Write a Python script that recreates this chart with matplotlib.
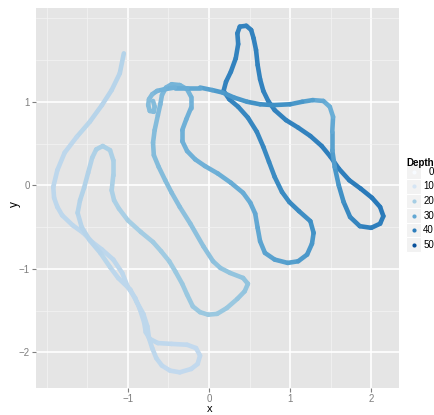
import matplotlib
matplotlib.use("Agg")
import matplotlib.pyplot as plt
import numpy as np
from matplotlib.collections import LineCollection
from matplotlib.colors import Normalize
from matplotlib.lines import Line2D
from matplotlib.patches import Rectangle

# path, in order along the track
path_x = [-1.05, -1.10, -1.20, -1.32, -1.47, -1.63, -1.78, -1.87, -1.92, -1.91,
          -1.87, -1.81, -1.68, -1.55, -1.44, -1.32, -1.18, -1.07, -1.00, -0.91,
          -0.85, -0.80, -0.78, -0.73, -0.63, -0.46, -0.27, -0.16, -0.11, -0.14,
          -0.22, -0.36, -0.48, -0.58, -0.65, -0.70, -0.74, -0.76, -0.81, -0.89,
          -0.97, -1.12, -1.22, -1.34, -1.47, -1.57, -1.62, -1.59, -1.54, -1.49,
          -1.44, -1.39, -1.31, -1.22, -1.18, -1.18, -1.20, -1.17, -1.11, -1.00,
          -0.84, -0.69, -0.59, -0.49, -0.41, -0.33, -0.27, -0.20, -0.11, -0.01,
          0.10, 0.22, 0.35, 0.44, 0.48, 0.42, 0.26, 0.14, 0.05, -0.07,
          -0.23, -0.36, -0.46, -0.54, -0.62, -0.68, -0.69, -0.67, -0.63, -0.60,
          -0.58, -0.53, -0.46, -0.36, -0.27, -0.22, -0.22, -0.28, -0.33, -0.33,
          -0.27, -0.17, -0.05, 0.11, 0.27, 0.42, 0.51, 0.57, 0.60, 0.63,
          0.69, 0.81, 0.97, 1.10, 1.21, 1.27, 1.29, 1.25, 1.11, 0.99,
          0.90, 0.81, 0.74, 0.67, 0.59, 0.48, 0.36, 0.25, 0.18, 0.21,
          0.27, 0.33, 0.36, 0.35, 0.38, 0.46, 0.52, 0.55, 0.58, 0.60,
          0.63, 0.67, 0.73, 0.81, 0.95, 1.10, 1.25, 1.39, 1.50, 1.60,
          1.73, 1.87, 2.01, 2.11, 2.15, 2.11, 2.00, 1.86, 1.74, 1.66,
          1.60, 1.55, 1.52, 1.52, 1.53, 1.49, 1.41, 1.28, 1.15, 1.00,
          0.79, 0.63, 0.47, 0.31, 0.17, 0.04, -0.11, -0.27, -0.42, -0.55,
          -0.64, -0.70, -0.74, -0.75, -0.73, -0.68, -0.67, -0.69]
path_y = [1.58, 1.34, 1.14, 0.96, 0.76, 0.58, 0.39, 0.18, -0.02, -0.15,
          -0.26, -0.36, -0.48, -0.57, -0.68, -0.77, -0.89, -1.05, -1.22, -1.35,
          -1.49, -1.64, -1.76, -1.84, -1.89, -1.90, -1.91, -1.95, -2.04, -2.14,
          -2.20, -2.24, -2.22, -2.16, -2.07, -1.95, -1.83, -1.69, -1.54, -1.40,
          -1.25, -1.11, -0.98, -0.81, -0.66, -0.50, -0.33, -0.18, -0.03, 0.15,
          0.33, 0.43, 0.47, 0.42, 0.30, 0.12, -0.06, -0.18, -0.28, -0.42,
          -0.56, -0.68, -0.79, -0.91, -1.04, -1.18, -1.31, -1.45, -1.52, -1.55,
          -1.54, -1.47, -1.36, -1.27, -1.18, -1.11, -1.05, -0.99, -0.91, -0.73,
          -0.46, -0.26, -0.09, 0.06, 0.22, 0.36, 0.51, 0.66, 0.84, 0.97,
          1.08, 1.17, 1.21, 1.20, 1.15, 1.06, 0.93, 0.79, 0.66, 0.53,
          0.41, 0.31, 0.23, 0.14, 0.03, -0.09, -0.21, -0.34, -0.51, -0.67,
          -0.81, -0.89, -0.93, -0.91, -0.83, -0.70, -0.57, -0.43, -0.31, -0.20,
          -0.08, 0.10, 0.28, 0.46, 0.64, 0.81, 0.94, 1.03, 1.13, 1.24,
          1.36, 1.52, 1.69, 1.82, 1.90, 1.91, 1.86, 1.76, 1.62, 1.44,
          1.27, 1.13, 1.01, 0.90, 0.78, 0.69, 0.59, 0.47, 0.34, 0.20,
          0.06, -0.04, -0.15, -0.26, -0.37, -0.46, -0.51, -0.49, -0.38, -0.20,
          0.00, 0.22, 0.42, 0.64, 0.82, 0.94, 1.01, 1.02, 1.00, 0.97,
          0.96, 0.97, 1.00, 1.05, 1.11, 1.14, 1.17, 1.17, 1.17, 1.15,
          1.13, 1.09, 1.03, 0.96, 0.89, 0.88, 0.94, 1.01]
depth = [18, 17, 17, 17, 17, 16, 16, 16, 16, 16,
         16, 16, 16, 16, 16, 16, 16, 16, 16, 16,
         16, 16, 16, 16, 16, 15, 15, 15, 15, 15,
         15, 15, 15, 15, 16, 16, 16, 16, 16, 16,
         16, 16, 16, 17, 17, 17, 17, 18, 18, 18,
         18, 19, 19, 19, 19, 19, 19, 19, 19, 20,
         20, 21, 21, 21, 22, 22, 22, 22, 22, 22,
         22, 22, 22, 23, 23, 23, 23, 23, 24, 24,
         24, 24, 25, 25, 25, 25, 25, 25, 25, 26,
         26, 26, 27, 27, 27, 27, 28, 28, 28, 28,
         28, 28, 28, 28, 29, 29, 29, 30, 30, 31,
         31, 32, 32, 33, 34, 34, 35, 36, 37, 37,
         37, 37, 37, 38, 38, 38, 38, 39, 39, 39,
         39, 39, 39, 39, 39, 39, 39, 39, 39, 39,
         39, 39, 39, 39, 39, 39, 39, 40, 40, 40,
         40, 41, 41, 41, 41, 40, 40, 39, 38, 37,
         35, 34, 32, 31, 29, 28, 29, 31, 34, 35,
         36, 36, 35, 34, 34, 33, 31, 30, 28, 28,
         27, 26, 25, 25, 25, 25, 25, 25]

legend_depths = [0, 10, 20, 30, 40, 50]
x_major = [-1, 0, 1, 2]
x_minor = [-2, -1.5, -0.5, 0.5, 1.5]
y_major = [-2, -1, 0, 1]
y_minor = [-1.5, -0.5, 0.5, 1.5, 2]

plt.rcParams["font.family"] = ["Liberation Sans", "DejaVu Sans"]

cmap = plt.get_cmap("Blues")
norm = Normalize(vmin=0, vmax=57)

W, H = 435, 415
fig = plt.figure(figsize=(W / 100, H / 100), dpi=100)
ax = fig.add_axes([36 / W, 1 - 388 / H, 362.6 / W, 380 / H])
ax.set_facecolor("#E5E5E5")
ax.set_xlim(-2.133, 2.338)
ax.set_ylim(-2.428, 2.123)

ax.set_xticks(x_major)
ax.set_xticks(x_minor, minor=True)
ax.set_yticks(y_major)
ax.set_yticks(y_minor, minor=True)
ax.grid(which="major", color="white", linewidth=1.2)
ax.grid(which="minor", color="#F4F4F4", linewidth=0.5)
ax.set_axisbelow(True)
for s in ax.spines.values():
    s.set_visible(False)
ax.tick_params(which="major", length=3, width=0.8, color="#7F7F7F",
               labelcolor="#7F7F7F", labelsize=7, pad=1.5)
ax.tick_params(which="minor", length=0)
ax.set_xlabel("x", fontsize=8, va="center")
ax.set_ylabel("y", fontsize=8.5, va="center")
ax.xaxis.set_label_coords(0.48, -0.056)
ax.yaxis.set_label_coords(-0.058, 0.484)

pts = np.column_stack([path_x, path_y])
segs = np.stack([pts[:-1], pts[1:]], axis=1)
d = np.array(depth, dtype=float)
seg_col = cmap(norm((d[:-1] + d[1:]) / 2))
lc = LineCollection(segs, colors=seg_col, linewidths=3.3,
                    capstyle="round", joinstyle="round")
ax.add_collection(lc)

# legend drawn by hand, ggplot style
fig.text(406 / W, 1 - 163 / H, "Depth", fontsize=7, fontweight="bold",
         ha="left", va="center")
for i, v in enumerate(legend_depths):
    yc = 171.7 + i * 14.6
    fig.add_artist(Rectangle((406.5 / W, 1 - (yc + 7.3) / H), 14.5 / W, 14.6 / H,
                             facecolor="#F2F2F2", edgecolor="white", linewidth=0.8,
                             transform=fig.transFigure))
    fig.add_artist(Line2D([413.7 / W], [1 - yc / H], marker="o", markersize=3,
                          markeredgewidth=0, color=cmap(norm(v)),
                          transform=fig.transFigure))
    fig.text(434 / W, 1 - yc / H, str(v), fontsize=7, ha="right", va="center")

fig.savefig("out.png", dpi=100)
